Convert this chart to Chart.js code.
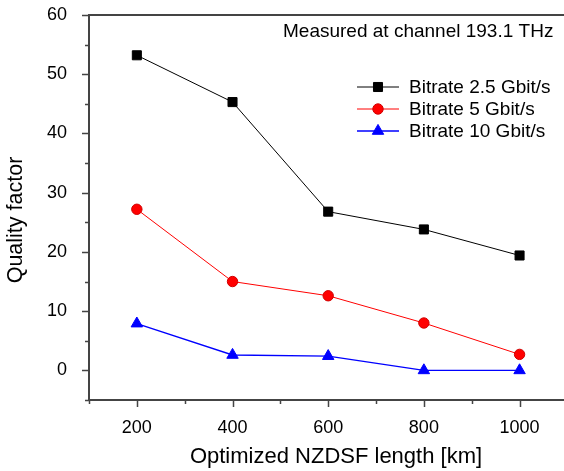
<!DOCTYPE html>
<html>
<head>
<meta charset="utf-8">
<script src="https://cdn.jsdelivr.net/npm/chart.js@4/dist/chart.umd.min.js"></script>
<style>
  html, body { margin: 0; padding: 0; background: #fff; overflow: hidden; }
  #wrap { width: 564px; height: 471px; overflow: hidden; }
  #chart { width: 575px; height: 471px; }
</style>
</head>
<body>
<div id="wrap"><canvas id="chart" width="575" height="471"></canvas></div>
<script>
// NZDSF length (km) and Q-factor per bitrate
const lengths = [200, 400, 600, 800, 1000];
const q2_5 = [53.2, 45.3, 26.8, 23.8, 19.4];
const q5 = [27.2, 15.0, 12.6, 8.0, 2.7];
const q10 = [7.9, 2.6, 2.4, 0.0, 0.0];
const seriesNames = ['Bitrate 2.5 Gbit/s', 'Bitrate 5 Gbit/s', 'Bitrate 10 Gbit/s'];
const note = 'Measured at channel 193.1 THz';
const xTitle = 'Optimized NZDSF length [km]';
const yTitle = 'Quality factor';

const FONT = "'Liberation Sans', Arial, sans-serif";
const AXIS = '#444';

const toPoints = arr => arr.map((v, i) => ({ x: lengths[i], y: v }));

// box + tick marks (long on labelled values, short in between) + axis titles
const frame = {
  id: 'frame',
  afterDraw(chart) {
    const { ctx, chartArea: a, scales: { x, y } } = chart;
    ctx.save();
    ctx.strokeStyle = AXIS;
    ctx.lineWidth = 2;
    ctx.strokeRect(a.left, a.top, a.right - a.left, a.bottom - a.top);
    ctx.lineWidth = 1.5;
    ctx.beginPath();
    x.ticks.forEach(t => {
      const px = Math.round(x.getPixelForValue(t.value)) + 0.5;
      const len = t.value % 200 === 0 ? 7 : 4;
      ctx.moveTo(px, a.bottom);
      ctx.lineTo(px, a.bottom + len);
    });
    y.ticks.forEach(t => {
      const py = Math.round(y.getPixelForValue(t.value)) + 0.5;
      const len = t.value % 10 === 0 ? 7 : 4;
      ctx.moveTo(a.left, py);
      ctx.lineTo(a.left - len, py);
    });
    ctx.stroke();

    ctx.fillStyle = '#000';
    ctx.textAlign = 'center';
    ctx.textBaseline = 'middle';
    ctx.font = '22px ' + FONT;
    ctx.fillText(xTitle, a.left + 247, a.bottom + 57);
    ctx.translate(16, a.top + 205);
    ctx.rotate(-Math.PI / 2);
    ctx.font = '21.5px ' + FONT;
    ctx.fillText(yTitle, 0, 0);
    ctx.restore();
  }
};

// legend with line + marker samples, plus the measurement note
const legendBox = {
  id: 'legendBox',
  afterDraw(chart) {
    const { ctx, chartArea: a } = chart;
    ctx.save();
    ctx.fillStyle = '#000';
    ctx.font = '19px ' + FONT;
    ctx.textBaseline = 'middle';
    ctx.fillText(note, a.left + 194, a.top + 17);

    chart.data.datasets.forEach((ds, i) => {
      const yy = a.top + 72 + i * 22;
      const x0 = a.left + 268;
      ctx.strokeStyle = ds.borderColor;
      ctx.lineWidth = ds.borderWidth;
      ctx.beginPath();
      ctx.moveTo(x0, yy);
      ctx.lineTo(x0 + 42, yy);
      ctx.stroke();
      ctx.fillStyle = ds.pointBackgroundColor;
      ctx.strokeStyle = ds.pointBorderColor;
      ctx.lineWidth = 1;
      Chart.helpers.drawPoint(ctx, {
        pointStyle: ds.pointStyle,
        radius: ds.pointRadius,
        borderWidth: 1
      }, x0 + 21, yy);
      ctx.fillStyle = '#000';
      ctx.fillText(ds.label, x0 + 52, yy + 1);
    });
    ctx.restore();
  }
};

function makeSet(label, data, color, edge, style, r, w) {
  return {
    label,
    data: toPoints(data),
    borderColor: color,
    backgroundColor: color,
    borderWidth: w,
    pointStyle: style,
    pointRadius: r,
    pointHoverRadius: r,
    pointBackgroundColor: color,
    pointBorderColor: edge,
    pointBorderWidth: 1,
    tension: 0
  };
}

new Chart(document.getElementById('chart'), {
  type: 'line',
  data: {
    datasets: [
      makeSet(seriesNames[0], q2_5, '#000000', '#000000', 'rect', 6.4, 1),
      makeSet(seriesNames[1], q5, '#ff0000', '#d00000', 'circle', 5.2, 1),
      makeSet(seriesNames[2], q10, '#0000ff', '#0000ff', 'triangle', 6.6, 1.3)
    ]
  },
  options: {
    responsive: false,
    animation: false,
    layout: { padding: { top: 15, right: 1, left: 0, bottom: 0 } },
    plugins: { legend: { display: false }, tooltip: { enabled: false } },
    scales: {
      x: {
        type: 'linear',
        min: 100,
        max: 1100,
        afterFit: s => { s.height = 71; s.paddingLeft = 0; s.paddingRight = 0; },
        grid: { display: false },
        border: { display: false },
        ticks: {
          stepSize: 100,
          padding: 9,
          color: '#000',
          font: { family: FONT, size: 18 },
          maxRotation: 0,
          autoSkip: false,
          callback: v => (v % 200 === 0 && v < 1100 ? v : '')
        }
      },
      y: {
        min: -5,
        max: 60,
        afterFit: s => { s.width = 89; s.paddingTop = 0; s.paddingBottom = 0; },
        grid: { display: false },
        border: { display: false },
        ticks: {
          stepSize: 5,
          padding: 14,
          color: '#000',
          font: { family: FONT, size: 18 },
          autoSkip: false,
          callback: v => (v % 10 === 0 && v >= 0 ? v : '')
        }
      }
    }
  },
  plugins: [frame, legendBox]
});
</script>
</body>
</html>
